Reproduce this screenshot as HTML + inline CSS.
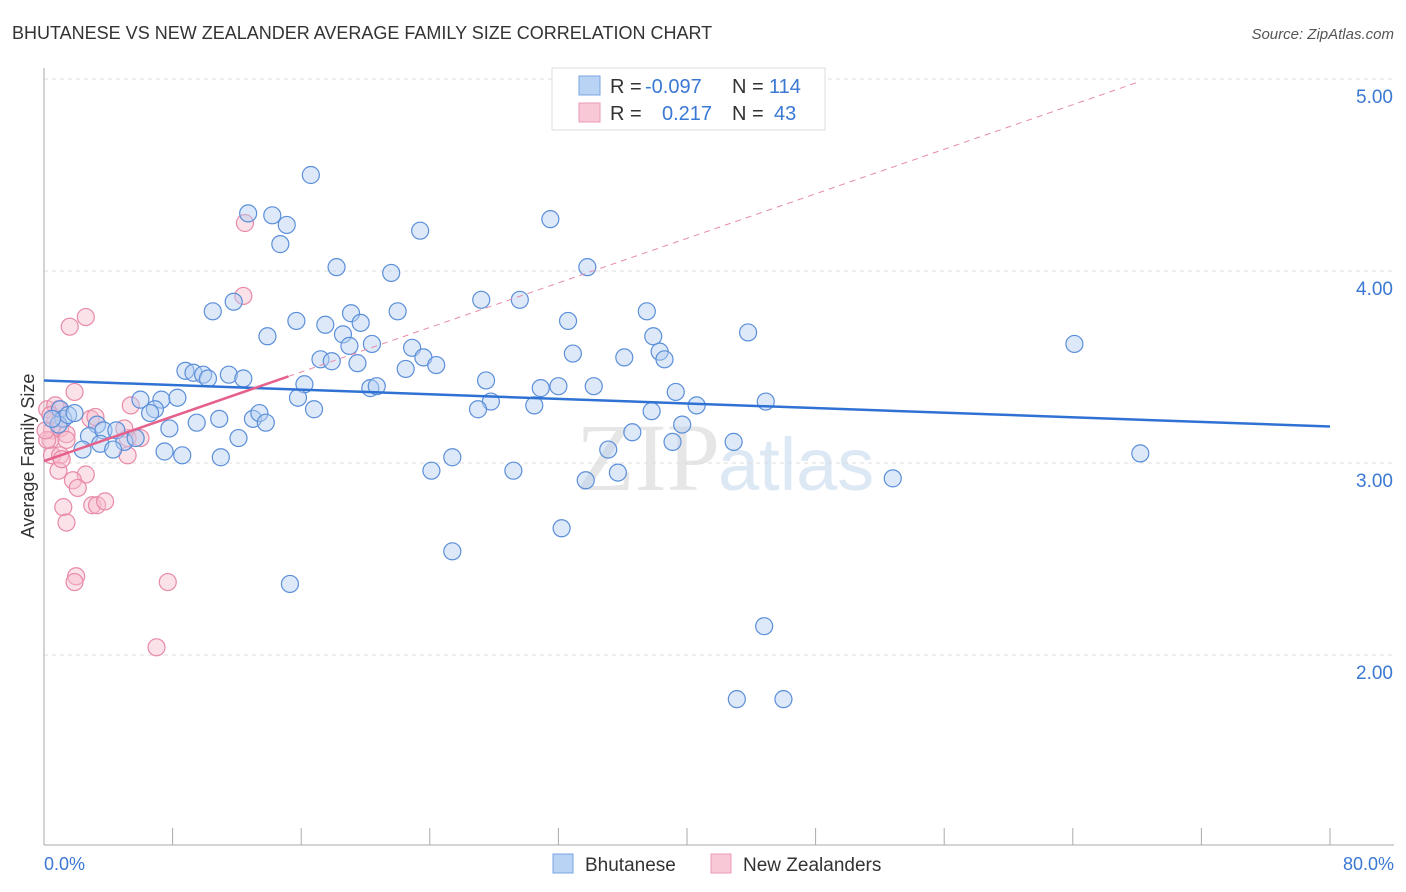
<!DOCTYPE html>
<html><head><meta charset="utf-8"><style>
body{margin:0;background:#fff;font-family:"Liberation Sans",sans-serif;}
svg{display:block}
</style></head><body>
<svg id="chart" width="1406" height="892" xmlns="http://www.w3.org/2000/svg">
<text x="12" y="39" font-size="18" fill="#333">BHUTANESE VS NEW ZEALANDER AVERAGE FAMILY SIZE CORRELATION CHART</text>
<text x="1394" y="39" font-size="15" fill="#555" font-style="italic" text-anchor="end">Source: ZipAtlas.com</text>
<text x="720" y="490" font-size="96" fill="#e6e6e6" text-anchor="end" font-family="Liberation Serif,serif">ZIP</text>
<text x="718" y="490" font-size="74" fill="#dde8f5">atlas</text>
<g id="grid"></g>
<g id="axes"></g>
<g id="marks"></g>
<text transform="translate(34,456) rotate(-90)" font-size="18" fill="#333" text-anchor="middle">Average Family Size</text>
<text x="44" y="870" font-size="18" fill="#3a78d4">0.0%</text>
<text x="1394" y="870" font-size="18" fill="#3a78d4" text-anchor="end">80.0%</text>
<g>
<rect x="552" y="68" width="273" height="62" fill="#fff" stroke="#ddd"/>
<rect x="579" y="76" width="21" height="19" fill="#b9d3f5" stroke="#7aa6e2"/>
<rect x="579" y="103" width="21" height="19" fill="#f9c8d7" stroke="#ec9ab4"/>
<text x="610" y="93" font-size="20" fill="#333">R =</text>
<text x="645" y="93" font-size="20" fill="#3a78d4">-0.097</text>
<text x="732" y="93" font-size="20" fill="#333">N =</text>
<text x="769" y="93" font-size="20" fill="#3a78d4">114</text>
<text x="610" y="120" font-size="20" fill="#333">R =</text>
<text x="662" y="120" font-size="20" fill="#3a78d4">0.217</text>
<text x="732" y="120" font-size="20" fill="#333">N =</text>
<text x="774" y="120" font-size="20" fill="#3a78d4">43</text>
</g>
<g>
<rect x="553" y="854" width="20" height="19" fill="#b9d3f5" stroke="#7aa6e2"/>
<text x="585" y="871" font-size="19" fill="#333">Bhutanese</text>
<rect x="711" y="854" width="20" height="19" fill="#f9c8d7" stroke="#ec9ab4"/>
<text x="743" y="871" font-size="19" fill="#333">New Zealanders</text>
</g>
</svg>
<script>
const yTicks=[2,3,4,5];
const yTickLabels=["2.00","3.00","4.00","5.00"];
const blueX=[16.6,12.7,14.2,15.1,14.7,23.4,31.5,18.2,21.6,33.8,10.5,11.8,13.9,15.7,17.5,19.1,19.7,18.6,19.0,20.4,22.0,27.2,29.6,32.6,37.5,37.9,43.8,64.1,17.2,17.9,19.5,22.9,23.6,24.4,22.5,32.9,36.1,38.3,38.6,8.8,9.3,9.9,10.2,11.5,12.4,16.2,20.3,20.7,27.5,30.9,32.0,34.2,39.3,6.0,7.3,8.3,6.9,6.6,15.8,16.8,27.8,27.0,30.5,37.8,40.6,44.9,9.5,10.9,7.8,13.0,13.4,13.8,3.3,2.8,3.7,4.5,5.0,5.7,3.5,2.4,4.3,7.5,8.6,11.0,12.1,36.6,39.7,39.1,42.9,35.1,25.4,24.1,29.2,33.7,35.7,52.8,68.2,32.2,25.4,15.3,44.8,43.1,46.0,1.0,1.2,0.9,1.5,0.5,1.9];
const blueY=[4.50,4.30,4.29,4.24,4.14,4.21,4.27,4.02,3.99,4.02,3.79,3.84,3.66,3.74,3.72,3.78,3.73,3.67,3.61,3.62,3.79,3.85,3.85,3.74,3.79,3.66,3.68,3.62,3.54,3.53,3.52,3.60,3.55,3.51,3.49,3.57,3.55,3.58,3.54,3.48,3.47,3.46,3.44,3.46,3.44,3.41,3.39,3.40,3.43,3.39,3.40,3.40,3.37,3.33,3.33,3.34,3.28,3.26,3.34,3.28,3.32,3.28,3.30,3.27,3.30,3.32,3.21,3.23,3.18,3.23,3.26,3.21,3.20,3.14,3.17,3.17,3.11,3.13,3.10,3.07,3.07,3.06,3.04,3.03,3.13,3.16,3.20,3.11,3.11,3.07,3.03,2.96,2.96,2.91,2.95,2.92,3.05,2.66,2.54,2.37,2.15,1.77,1.77,3.28,3.23,3.20,3.25,3.23,3.26];
const pinkX=[12.5,12.4,1.6,2.6,1.9,5.4,0.9,0.7,0.5,0.4,1.0,1.4,2.9,3.2,0.5,1.0,1.4,5.2,6.0,5.0,5.2,0.9,2.6,1.8,2.1,1.2,3.0,3.3,3.8,1.4,2.0,1.9,7.7,7.0,0.2,0.2,0.7,1.1,0.1,0.4];
const pinkY=[4.25,3.87,3.71,3.76,3.37,3.30,3.28,3.23,3.17,3.12,3.18,3.15,3.23,3.24,3.04,3.04,3.12,3.13,3.13,3.18,3.04,2.96,2.94,2.91,2.87,2.77,2.78,2.78,2.80,2.69,2.41,2.38,2.38,2.04,3.12,3.28,3.30,3.02,3.17,3.25];
const blueTrend=[3.43,3.19]; // at x=0 and x=80
const pinkTrend=[3.01,0.029]; // intercept, slope per %
const NS="http://www.w3.org/2000/svg";
const X=v=>44+v*(1286/80);
const Y=v=>463-(v-3)*192;
function mk(tag,attrs,parent){const e=document.createElementNS(NS,tag);for(const k in attrs)e.setAttribute(k,attrs[k]);parent.appendChild(e);return e;}
const grid=document.getElementById('grid'),axes=document.getElementById('axes'),marks=document.getElementById('marks');
yTicks.forEach((t,i)=>{
 const l=mk('line',{x1:44,x2:1394,y1:Y(t),y2:Y(t),stroke:'#ddd','stroke-dasharray':'4,4'},grid);
 
 
 const tx=mk('text',{x:1393,y:Y(t)+24,'font-size':19,fill:'#3a78d4','text-anchor':'end'},axes);
 tx.textContent=yTickLabels[i];
 
 
});
const ax=mk('line',{x1:44,x2:44,y1:68,y2:845,stroke:'#aaa'},axes);


const bx=mk('line',{x1:44,x2:1394,y1:845,y2:845,stroke:'#aaa'},axes);


for(let k=1;k<=10;k++){
 const t=mk('line',{x1:X(k*8),x2:X(k*8),y1:828,y2:845,stroke:'#aaa'},axes);
 
 
}
function dots(xs,ys,fill,stroke,name){
 xs.forEach((x,i)=>{
  const c=mk('circle',{cx:X(x),cy:Y(ys[i]),r:8.5,fill:fill,'fill-opacity':0.45,stroke:stroke,'stroke-width':1.2},marks);
  
  
 });
}
dots(pinkX,pinkY,'#f6bccd','#e88aa8','new-zealander-point');
dots(blueX,blueY,'#b3cef2','#5b8fd9','bhutanese-point');
const bl=mk('line',{x1:X(0),y1:Y(blueTrend[0]),x2:X(80),y2:Y(blueTrend[1]),stroke:'#2f72d3','stroke-width':2.5},marks);


const pd=mk('line',{x1:X(15.2),y1:Y(pinkTrend[0]+pinkTrend[1]*15.2),x2:X(68),y2:Y(pinkTrend[0]+pinkTrend[1]*68),stroke:'#e88aa8','stroke-width':1,'stroke-dasharray':'6,5'},marks);


const pl=mk('line',{x1:X(0),y1:Y(pinkTrend[0]),x2:X(15.2),y2:Y(pinkTrend[0]+pinkTrend[1]*15.2),stroke:'#e5608a','stroke-width':2.5},marks);


</script>
</body></html>
